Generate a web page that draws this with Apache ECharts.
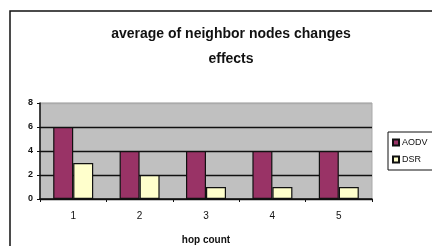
<!DOCTYPE html>
<html>
<head>
<meta charset="utf-8">
<script src="https://cdn.jsdelivr.net/npm/echarts@6/dist/echarts.min.js"></script>
<style>
  html, body { margin: 0; padding: 0; background: #fff; }
  #chart { width: 432px; height: 246px; }
</style>
</head>
<body>
<div id="chart"></div>
<script>
var hops = ['1', '2', '3', '4', '5'];
var aodv = [6, 4, 4, 4, 4];
var dsr = [3, 2, 1, 1, 1];
var yTicks = [0, 2, 4, 6, 8];

var myChart = echarts.init(document.getElementById('chart'));
var option = {
  backgroundColor: '#fff',
  animation: false,
  textStyle: { fontFamily: 'Liberation Sans, Arial, sans-serif' },
  graphic: [{
    type: 'rect',
    shape: { x: 10, y: 11, width: 600, height: 400 },
    style: { fill: 'none', stroke: '#111', lineWidth: 1.5 },
    z: -1
  }],
  title: {
    text: 'average of neighbor nodes changes\neffects',
    left: 226,
    textAlign: 'center',
    top: 17,
    textStyle: { fontSize: 14, fontWeight: 'bold', color: '#111', lineHeight: 25 }
  },
  legend: {
    data: ['AODV', 'DSR'],
    orient: 'vertical',
    left: 388,
    top: 132,
    padding: [6, 30, 6, 4],
    itemGap: 8,
    itemWidth: 6,
    itemHeight: 6,
    icon: 'rect',
    borderColor: '#111',
    borderWidth: 1,
    textStyle: { fontSize: 9, color: '#111', padding: [0, 0, 0, -2] }
  },
  grid: {
    left: 40, top: 103, width: 332, height: 99,
    show: true,
    backgroundColor: '#c0c0c0',
    borderColor: '#aaa',
    borderWidth: 1
  },
  xAxis: {
    type: 'category',
    data: hops,
    name: 'hop count',
    nameLocation: 'middle',
    nameGap: 36,
    nameTextStyle: { fontSize: 10, fontWeight: 'bold', color: '#111' },
    axisLine: { lineStyle: { color: '#111', width: 1.5 } },
    axisTick: { show: true, length: 3, lineStyle: { color: '#111' } },
    axisLabel: { fontSize: 10, color: '#111', margin: 12 }
  },
  yAxis: {
    type: 'value',
    min: yTicks[0],
    max: yTicks[yTicks.length - 1],
    interval: 2,
    axisLine: { show: true, lineStyle: { color: '#111', width: 1.5 } },
    axisTick: { show: true, length: 3, lineStyle: { color: '#111' } },
    axisLabel: { fontSize: 9, fontWeight: 'bold', color: '#111', margin: 7 },
    splitLine: { show: true, lineStyle: { color: ['#111', '#111', '#111', '#111', '#aaa'], width: 1.3 } }
  },
  series: [{
    name: 'AODV',
    type: 'bar',
    data: aodv,
    barWidth: 20,
    barGap: '0%',
    itemStyle: { color: '#993366', borderColor: '#111', borderWidth: 1.2 }
  }, {
    name: 'DSR',
    type: 'bar',
    data: dsr,
    barWidth: 20,
    itemStyle: { color: '#ffffcc', borderColor: '#111', borderWidth: 1.2 }
  }]
};
option && myChart.setOption(option);
</script>
</body>
</html>
